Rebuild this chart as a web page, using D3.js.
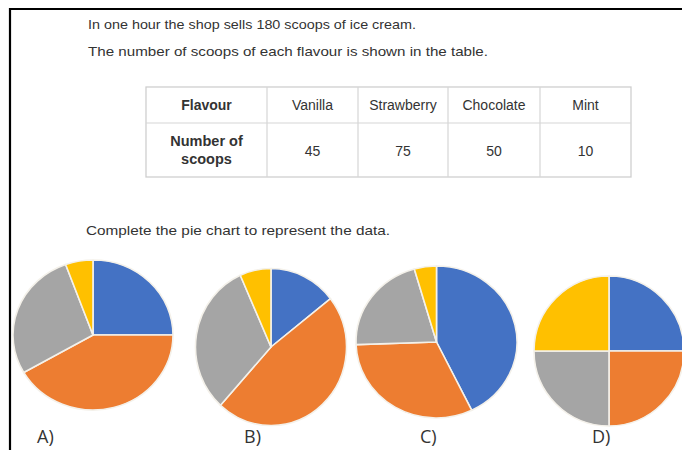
<!DOCTYPE html>
<html>
<head>
<meta charset="utf-8">
<script src="https://cdn.jsdelivr.net/npm/d3@7"></script>
<style>
  html, body { margin: 0; padding: 0; background: #fff; }
  svg { display: block; }
</style>
</head>
<body>
<svg id="chart" width="682" height="450"></svg>
<script>
// ---- Data ----
const introLines = [
  "In one hour the shop sells 180 scoops of ice cream.",
  "The number of scoops of each flavour is shown in the table."
];
const instruction = "Complete the pie chart to represent the data.";
const flavours = ["Vanilla", "Strawberry", "Chocolate", "Mint"];
const scoops = [45, 75, 50, 10];
const headerLabel = "Flavour";
const rowLabel = ["Number of", "scoops"];
const pieLabels = ["A)", "B)", "C)", "D)"];
// slice sizes (in scoops out of 180) as drawn in each option
const pieA = [45, 75, 50, 10];
const pieB = [26, 85, 57, 12];
const pieC = [77, 57, 38, 8];
const pieD = [45, 45, 45, 45];
const colors = ["#4472C4", "#ED7D31", "#A5A5A5", "#FFC000"];

// ---- Drawing ----
const svg = d3.select("#chart");
const textColor = "#333";

// frame
svg.append("line").attr("x1", 9).attr("x2", 682).attr("y1", 9).attr("y2", 9)
  .attr("stroke", "#000").attr("stroke-width", 2.2);
svg.append("line").attr("x1", 10).attr("x2", 10).attr("y1", 8).attr("y2", 450)
  .attr("stroke", "#000").attr("stroke-width", 2.2);

// intro text
const introY = [29, 56];
const introW = [328, 400];
introLines.forEach((t, i) => {
  svg.append("text").attr("x", 88).attr("y", introY[i])
    .attr("font-family", "Liberation Sans, Arial, sans-serif")
    .attr("font-size", 13.5).attr("fill", textColor)
    .attr("textLength", introW[i]).attr("lengthAdjust", "spacingAndGlyphs")
    .text(t);
});

// table
const colEdges = [146, 267, 358, 448, 540, 631];
const rowEdges = [87, 123, 177];
const tbl = svg.append("g");
tbl.append("rect").attr("x", colEdges[0]).attr("y", rowEdges[0])
  .attr("width", colEdges[5] - colEdges[0]).attr("height", rowEdges[2] - rowEdges[0])
  .attr("fill", "#fff").attr("stroke", "#cfcfcf").attr("stroke-width", 1.3);
colEdges.slice(1, 5).forEach(x => {
  tbl.append("line").attr("x1", x).attr("x2", x).attr("y1", rowEdges[0]).attr("y2", rowEdges[2])
    .attr("stroke", "#d6d6d6").attr("stroke-width", 1.2);
});
tbl.append("line").attr("x1", colEdges[0]).attr("x2", colEdges[5]).attr("y1", rowEdges[1]).attr("y2", rowEdges[1])
  .attr("stroke", "#d6d6d6").attr("stroke-width", 1.2);

const cellText = (x, y, t, bold, size) => tbl.append("text").attr("x", x).attr("y", y)
  .attr("text-anchor", "middle")
  .attr("font-family", "Liberation Sans, Arial, sans-serif")
  .attr("font-size", size).attr("font-weight", bold ? "bold" : "normal")
  .attr("fill", textColor).text(t);

const colMid = i => (colEdges[i] + colEdges[i + 1]) / 2;
cellText(colMid(0), 110, headerLabel, true, 14);
flavours.forEach((f, i) => cellText(colMid(i + 1), 110, f, false, 14));
cellText(colMid(0), 146, rowLabel[0], true, 14.5);
cellText(colMid(0), 164, rowLabel[1], true, 14.5);
scoops.forEach((s, i) => cellText(colMid(i + 1), 156, String(s), false, 14));

// instruction
svg.append("text").attr("x", 86).attr("y", 235)
  .attr("font-family", "Liberation Sans, Arial, sans-serif")
  .attr("font-size", 13.5).attr("fill", textColor)
  .attr("textLength", 304).attr("lengthAdjust", "spacingAndGlyphs")
  .text(instruction);

// pies
const pies = [
  { data: pieA, cx: 93,  cy: 335, rx: 80,   ry: 75 },
  { data: pieB, cx: 271, cy: 347, rx: 75.5, ry: 78.5 },
  { data: pieC, cx: 436.5, cy: 342, rx: 80.5, ry: 76 },
  { data: pieD, cx: 609, cy: 351, rx: 75,   ry: 75 }
];
const labelPos = [[37, 443], [244, 443], [420, 443], [592, 443]];

const pieGen = d3.pie().sort(null).value(d => d);
pies.forEach((p, i) => {
  const arc = d3.arc().innerRadius(0).outerRadius(p.ry);
  const g = svg.append("g")
    .attr("transform", `translate(${p.cx},${p.cy}) scale(${p.rx / p.ry},1)`);
  g.selectAll("path").data(pieGen(p.data)).join("path")
    .attr("d", arc)
    .attr("fill", (d, j) => colors[j])
    .attr("stroke", "#f4f1ea")
    .attr("stroke-width", 1.6)
    .attr("stroke-linejoin", "round")
    .attr("vector-effect", "non-scaling-stroke");
  svg.append("text").attr("x", labelPos[i][0]).attr("y", labelPos[i][1])
    .attr("font-family", "Open Sans, Lato, sans-serif")
    .attr("font-size", 18).attr("fill", textColor)
    .text(pieLabels[i]);
});
</script>
</body>
</html>
